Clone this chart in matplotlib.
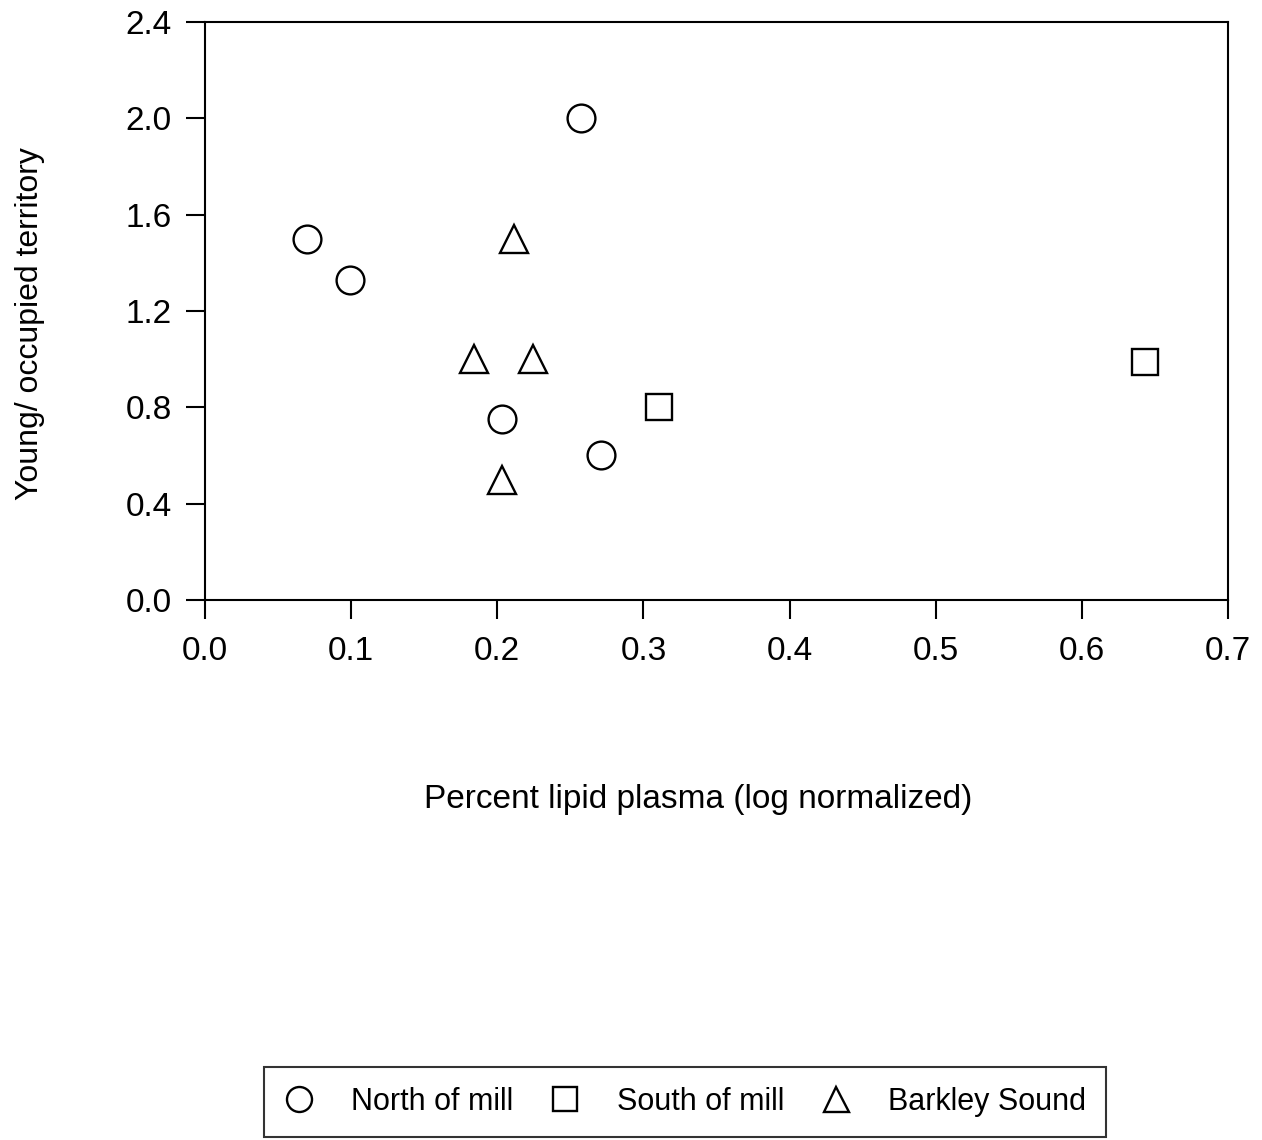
import matplotlib
matplotlib.use("Agg")
import matplotlib.pyplot as plt

plt.rcParams['font.family'] = ['Liberation Sans', 'DejaVu Sans']

# North of mill
north_x = [0.070, 0.099, 0.257, 0.203, 0.271]
north_y = [1.50, 1.33, 2.00, 0.75, 0.60]
# South of mill
south_x = [0.311, 0.643]
south_y = [0.80, 0.99]
# Barkley Sound
barkley_x = [0.2115, 0.184, 0.2245, 0.203]
barkley_y = [1.50, 1.00, 1.00, 0.50]

xticks = [0.0, 0.1, 0.2, 0.3, 0.4, 0.5, 0.6, 0.7]
yticks = [0.0, 0.4, 0.8, 1.2, 1.6, 2.0, 2.4]

fig = plt.figure(figsize=(12.62, 11.4), dpi=100)
ax = fig.add_axes([0.1624, 0.4737, 0.8107, 0.507])

ms = 20
style = dict(linestyle='none', markerfacecolor='white', markeredgecolor='black',
             markeredgewidth=1.7, markersize=ms)
h1, = ax.plot(north_x, north_y, marker='o', label='North of mill', **style)
h2, = ax.plot(south_x, south_y, marker='s', label='South of mill',
              **{**style, 'markersize': ms * 0.92})
h3, = ax.plot(barkley_x, barkley_y, marker='^', label='Barkley Sound', **style)

ax.set_xlim(0, 0.7)
ax.set_ylim(0, 2.4)
ax.set_xticks(xticks)
ax.set_yticks(yticks)
ax.set_xticklabels([f"{v:.1f}" for v in xticks])
ax.set_yticklabels([f"{v:.1f}" for v in yticks])
ax.tick_params(direction='out', length=14, width=1.5, labelsize=24, top=False, right=False)
ax.tick_params(axis='x', pad=12)
ax.tick_params(axis='y', pad=10)
for s in ax.spines.values():
    s.set_linewidth(1.5)

ax.set_xlabel("Percent lipid plasma (log normalized)", fontsize=24, labelpad=84)
ax.xaxis.label.set_x(0.482)
ax.set_ylabel("Young/ occupied territory", fontsize=23, labelpad=58)
ax.yaxis.label.set_y(0.478)

leg = fig.legend(handles=[h1, h2, h3], loc='center', bbox_to_anchor=(0.5428, 0.0335),
                 ncol=3, fontsize=22, frameon=True, fancybox=False, edgecolor='black',
                 handlelength=1.0, columnspacing=1.2, handletextpad=1.2,
                 borderpad=0.65, borderaxespad=0, markerscale=0.9)
leg.get_frame().set_linewidth(1.5)

fig.savefig("out.png", dpi=100)
